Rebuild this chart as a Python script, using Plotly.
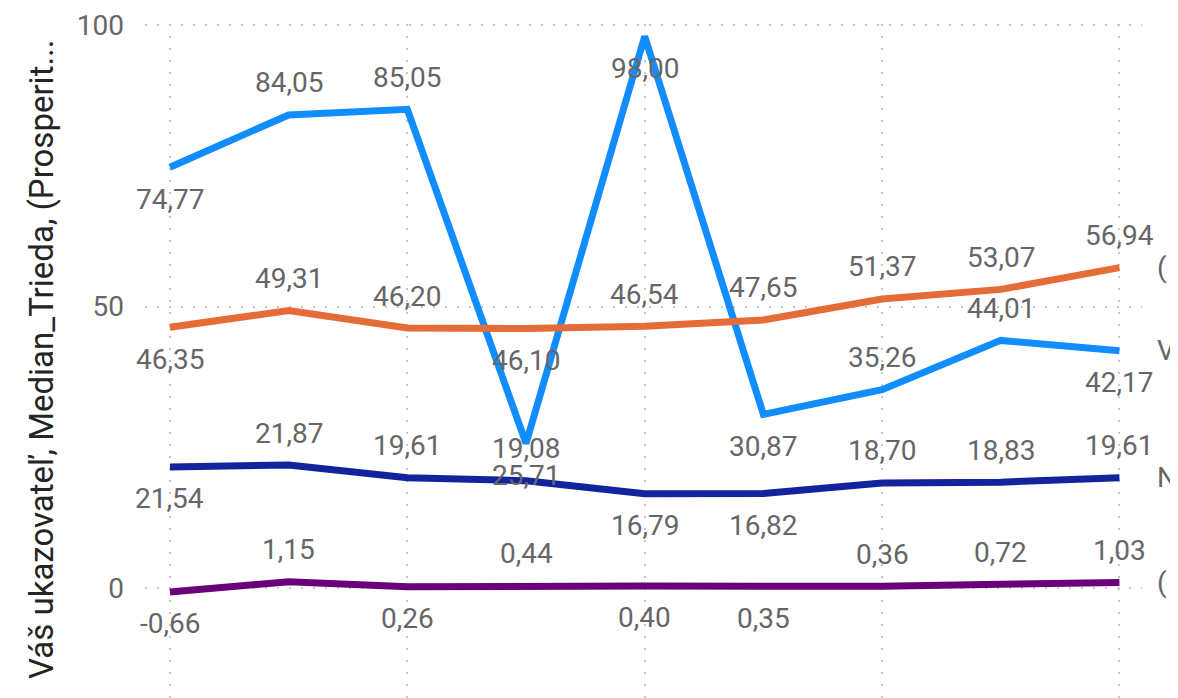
import plotly.graph_objects as go

points = list(range(9))

series_names = ["Váš ukazovateľ", "(Prosperita)", "Median_Trieda", "(Rast)"]
blue_vals = [74.77, 84.05, 85.05, 25.71, 98.00, 30.87, 35.26, 44.01, 42.17]
orange_vals = [46.35, 49.31, 46.20, 46.10, 46.54, 47.65, 51.37, 53.07, 56.94]
navy_vals = [21.54, 21.87, 19.61, 19.08, 16.79, 16.82, 18.70, 18.83, 19.61]
purple_vals = [-0.66, 1.15, 0.26, 0.44, 0.40, 0.35, 0.36, 0.72, 1.03]

end_labels = ["V", "(", "N", "("]
y_ticks = [0, 50, 100]
y_title = "Váš ukazovateľ, Median_Trieda, (Prosperit..."

# label placement: 1 = above, -1 = below
blue_pos = [-1, 1, 1, -1, -1, -1, 1, 1, -1]
orange_pos = [-1, 1, 1, -1, 1, 1, 1, 1, 1]
navy_pos = [-1, 1, 1, 1, -1, -1, 1, 1, 1]
purple_pos = [-1, 1, -1, 1, -1, -1, 1, 1, 1]

colors = ["#118DFF", "#E66C37", "#12239E", "#6B007B"]
label_color = "#666666"
font_family = "Roboto, sans-serif"

all_vals = [blue_vals, orange_vals, navy_vals, purple_vals]
all_pos = [blue_pos, orange_pos, navy_pos, purple_pos]

fig = go.Figure()
annotations = []
for name, vals, pos, col, endl in zip(series_names, all_vals, all_pos, colors, end_labels):
    fig.add_trace(go.Scatter(
        x=points, y=vals, mode="lines", name=name,
        line=dict(color=col, width=7), showlegend=False,
    ))
    for xi, v, p in zip(points, vals, pos):
        annotations.append(dict(
            x=xi, y=v, xref="x", yref="y", showarrow=False,
            text=f"{v:.2f}".replace(".", ","),
            yshift=32 * p, xanchor="center", yanchor="middle",
            font=dict(size=28, color=label_color, family=font_family),
        ))
    annotations.append(dict(
        x=points[-1], y=vals[-1], xref="x", yref="y", showarrow=False,
        text=endl, xshift=36, xanchor="left", yanchor="middle",
        font=dict(size=28, color=label_color, family=font_family),
    ))

annotations.append(dict(
    xref="paper", yref="paper", x=0, y=0.503, xshift=-103,
    text=y_title, textangle=-90, showarrow=False,
    xanchor="center", yanchor="middle",
    font=dict(size=33, color="#252423", family="Roboto, sans-serif"),
))

fig.update_layout(
    width=1178, height=698,
    margin=dict(l=137, r=44, t=16, b=8),
    paper_bgcolor="white", plot_bgcolor="white",
    annotations=annotations,
    xaxis=dict(
        range=[-0.21, 8.19], tickvals=[0, 2, 4, 6, 8], showticklabels=False,
        showgrid=True, gridcolor="#C8C6C4", gridwidth=2, griddash="2px,10px",
        zeroline=False, showline=False, ticks="", automargin=False,
    ),
    yaxis=dict(
        range=[-19.5, 100.2], tickvals=y_ticks, ticktext=[str(t) for t in y_ticks],
        showgrid=True, gridcolor="#C8C6C4", gridwidth=2, griddash="2px,10px",
        zeroline=False, showline=False, ticks="", ticklabelstandoff=20,
        ticklabeloverflow="allow", automargin=False,
        tickfont=dict(size=28, color=label_color, family=font_family),
    ),
)

fig.write_html("out.html")
